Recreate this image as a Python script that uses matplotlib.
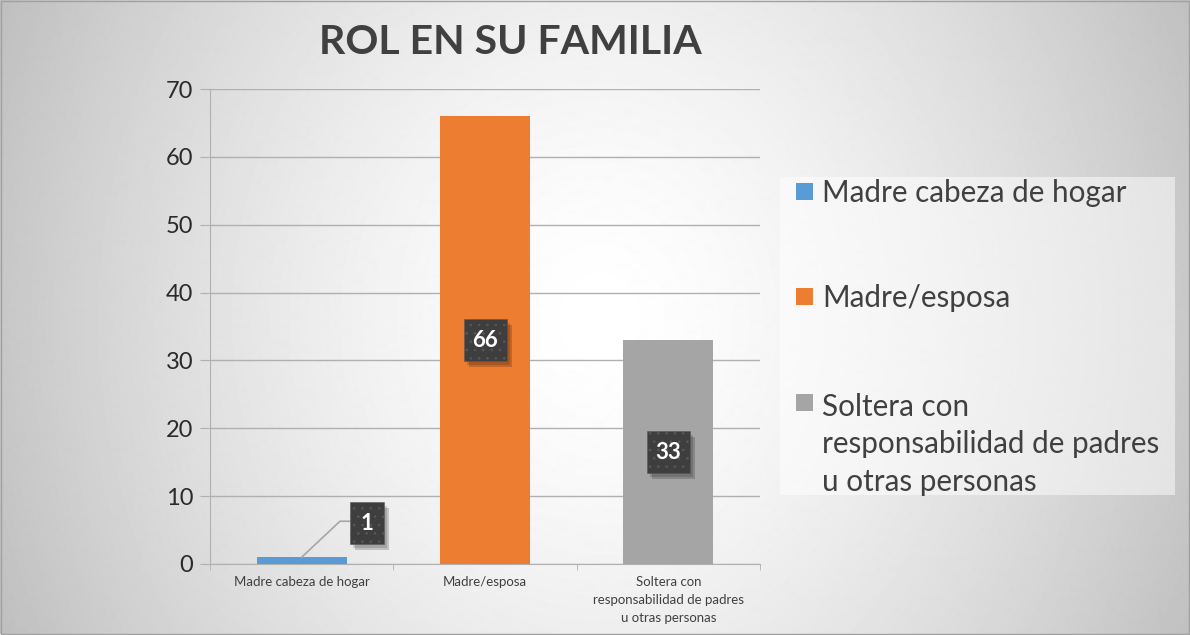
import numpy as np
import matplotlib
matplotlib.use('Agg')
import matplotlib.pyplot as plt
from matplotlib.patches import Rectangle
from matplotlib.transforms import Affine2D

plt.rcParams['font.family'] = ['Lato', 'DejaVu Sans']
plt.rcParams['hatch.linewidth'] = 0.6

categorias = ['Madre cabeza de hogar', 'Madre/esposa', 'Soltera con\nresponsabilidad de padres\nu otras personas']
valores = [1, 66, 33]
colores = ['#5b9bd5', '#ed7d31', '#a5a5a5']
leyenda = ['Madre cabeza de hogar', 'Madre/esposa', 'Soltera con\nresponsabilidad de padres\nu otras personas']
titulo = 'ROL EN SU FAMILIA'
yticks = list(range(0, 71, 10))

texto = '#404040'
gris_linea = '#b0b0b0'

fig = plt.figure(figsize=(11.9, 6.35), dpi=100)

# fondo con gradiente radial
bg = fig.add_axes([0, 0, 1, 1], zorder=-10)
yy, xx = np.mgrid[0:635, 0:1190]
r = np.sqrt(((xx - 600) / 600.0) ** 2 + ((yy - 320) / 700.0) ** 2)
img = 1.0 - 0.22 * r ** 1.5
bg.imshow(img, cmap='gray', vmin=0, vmax=1, aspect='auto', interpolation='bilinear')
bg.set_xlim(0, 1190)
bg.set_ylim(635, 0)
bg.set_axis_off()
bg.add_patch(Rectangle((0.5, 0.5), 1188, 633, fill=False, ec='#a0a0a0', lw=1))

ax = fig.add_axes([210 / 1190, 1 - 564 / 635, 550 / 1190, 475 / 635])
ax.set_facecolor('none')
x = np.arange(len(valores))
ax.bar(x, valores, width=0.49, color=colores, zorder=3)
ax.set_xlim(-0.5, 2.5)
ax.set_ylim(0, 70)
ax.set_yticks(yticks)
ax.set_xticks(x)
ax.set_xticklabels(categorias, fontsize=9.5, color=texto, linespacing=1.6)
ax.set_xticks([-0.5, 0.5, 1.5, 2.5], minor=True)
ax.tick_params(axis='x', which='major', length=0, pad=9)
ax.tick_params(axis='x', which='minor', length=4.5, color=gris_linea, direction='out')
ax.tick_params(axis='y', length=7, color=gris_linea, labelsize=17, labelcolor='#2a2a2a', pad=5)
ax.yaxis.grid(True, color=gris_linea, lw=1, zorder=0)
for s in ['top', 'right']:
    ax.spines[s].set_visible(False)
for s in ['left', 'bottom']:
    ax.spines[s].set_color(gris_linea)

# etiquetas de datos (cajas oscuras con sombra)
posiciones = [(0.354, 6.0), (1.0, 33.0), (2.0, 16.5)]
for (px, py), v in zip(posiciones, valores):
    w = 25 + 9 * len(str(v))
    h = 42
    cx, cy = ax.transData.transform((px, py))
    t = Affine2D().translate(cx, cy)
    ax.add_patch(Rectangle((-w / 2 + 5, -h / 2 - 6), w, h, transform=t,
                           fc='black', ec='none', alpha=0.18, zorder=4, clip_on=False))
    ax.add_patch(Rectangle((-w / 2 + 3, -h / 2 - 4), w, h, transform=t,
                           fc='black', ec='none', alpha=0.15, zorder=4, clip_on=False))
    ax.add_patch(Rectangle((-w / 2, -h / 2), w, h, transform=t, fc='#3e3e3e',
                           ec='#585858', lw=0.4, hatch='..', zorder=5, clip_on=False))
    ax.text(px, py, str(v), ha='center', va='center', fontsize=16,
            fontweight='bold', color='white', zorder=6)
ax.plot([0, 0.209, 0.262], [valores[0], 6.3, 6.3], color='#a6a6a6', lw=1.2, zorder=4)

fig.text(0.429, 1 - 43 / 635, titulo, ha='center', va='center', fontsize=29.5,
         fontweight='bold', color=texto)

# leyenda manual
fig.patches.append(Rectangle((780 / 1190, 1 - 495 / 635), 395 / 1190, 318 / 635,
                             transform=fig.transFigure, fc='white', alpha=0.5, ec='none'))
bases = [202, 307, 413]
paso = 39
for yb, lab, c in zip(bases, leyenda, colores):
    fig.patches.append(Rectangle((796 / 1190, 1 - (yb - 2) / 635), 17 / 1190, 17 / 635,
                                 transform=fig.transFigure, fc=c, ec='none'))
    n = lab.count('\n')
    fig.text(822 / 1190, 1 - (yb + n * paso) / 635, lab, ha='left', va='baseline',
             fontsize=21.3, color=texto, linespacing=1.42)

fig.savefig('out.png', dpi=100)
